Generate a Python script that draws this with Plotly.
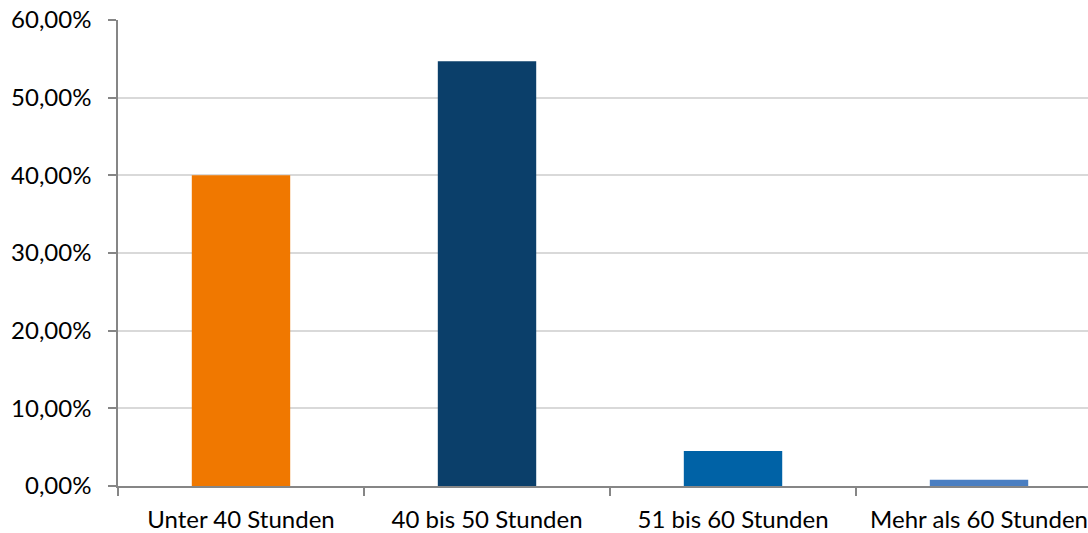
import plotly.graph_objects as go

categories = ["Unter 40 Stunden", "40 bis 50 Stunden", "51 bis 60 Stunden", "Mehr als 60 Stunden"]
values = [0.400, 0.547, 0.045, 0.008]
colors = ["#F07800", "#0B3F6A", "#0062A6", "#4A7EC1"]

fig = go.Figure(go.Bar(x=categories, y=values, marker_color=colors, marker_line_width=0, width=0.4))

fig.update_layout(
    width=1088, height=533,
    margin=dict(l=118, r=0, t=20, b=47),
    plot_bgcolor="white", paper_bgcolor="white",
    separators=",.",
    font=dict(family="Lato, Noto Sans, sans-serif", size=24, color="#000000"),
    showlegend=False,
)
fig.update_xaxes(
    range=[-0.5, 3.443], showgrid=False, showline=True, linecolor="#868686", linewidth=1.5,
    ticks="outside", tickson="boundaries", ticklen=8, tickcolor="#868686", tickwidth=1.5,
    ticklabelstandoff=11, automargin=False, ticklabeloverflow="allow",
)
fig.update_yaxes(
    range=[0, 0.6], dtick=0.1, tickformat=".2%", showgrid=True, gridcolor="#D9D9D9", gridwidth=1.5,
    showline=True, linecolor="#868686", linewidth=1.5, ticks="outside", ticklen=8,
    tickcolor="#868686", tickwidth=1.5, zeroline=False, ticklabelstandoff=12,
    automargin=False, ticklabeloverflow="allow",
)
fig.write_html("out.html", config={"displayModeBar": False},
               post_script="document.body.style.margin='0px';")
